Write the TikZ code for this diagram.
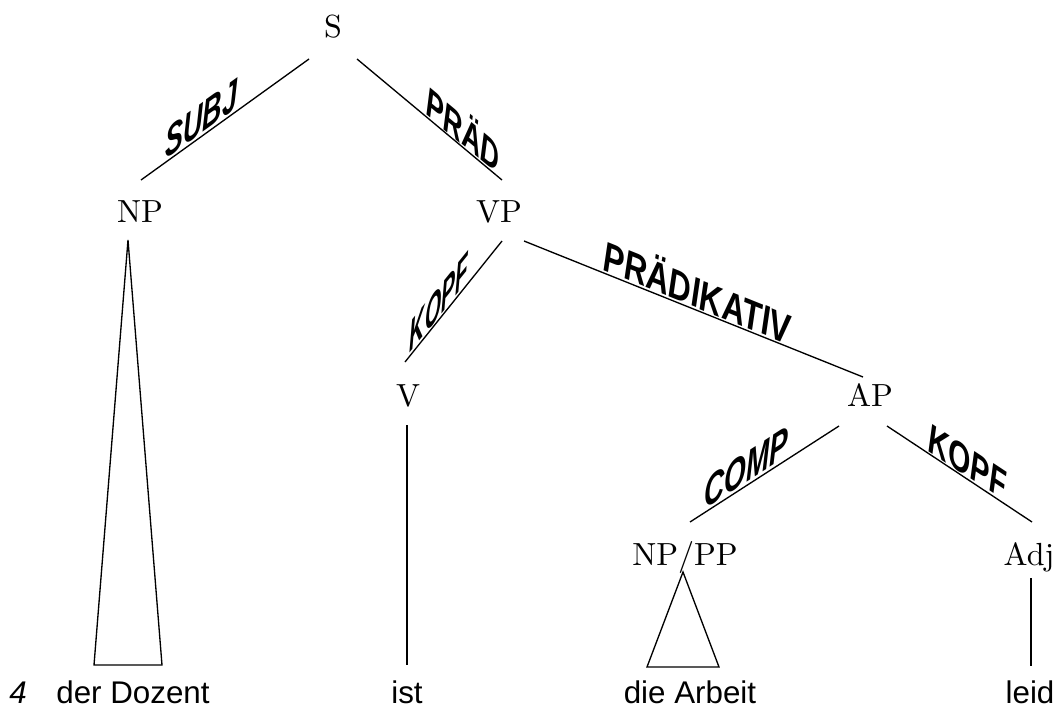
\documentclass[tikz,border=0pt]{standalone}
\usepackage{fontspec}
\newfontfamily\wordfont{Liberation Sans}
\newfontfamily\catfont{lmroman10-regular.otf}
\usetikzlibrary{calc}
\tikzset{every picture/.style={line width=1pt}}
\tikzset{
  cat/.style={anchor=base, inner sep=0pt, font=\catfont\fontsize{24}{28}\selectfont},
  word/.style={anchor=base, inner sep=0pt, font=\wordfont\fontsize{23.5}{28}\selectfont},
  rel/.style 2 args={transform shape, cm={#1,-#2,0,-1.3,(0,0)}, anchor=south, inner sep=0.8pt,
    font=\wordfont\bfseries\itshape\fontsize{25}{30}\selectfont}
}

\begin{document}
\begin{tikzpicture}[x=0.75pt,y=0.75pt,yscale=-1,xscale=1]
  \useasboundingbox (0,0) rectangle (1060,711);

  %Categories
  \node[cat] (S) at (333,37) {S};
  \node[cat] (NP) at (140,222) {NP};
  \node[cat] (VP) at (499,222) {VP};
  \node[cat] (V) at (408,406) {V};
  \node[cat] (AP) at (870,406) {AP};
  \node[cat] (NPPP) at (685,565) {NP/PP};
  \node[cat] (Adj) at (1029,565) {Adj};

  %Words
  \node[word] (num) at (18,703) {\itshape 4};
  \node[word] (dozent) at (133,703) {der Dozent};
  \node[word] (ist) at (407,703) {ist};
  \node[word] (arbeit) at (690,703) {die Arbeit};
  \node[word] (leid) at (1030,703) {leid};

  %Straight Lines with relations
  \draw ($(S.base)+(-24,22)$) -- node[pos=0.64, rel={0.8114}{0.5844}] {SUBJ} ($(NP.base)+(1,-42)$);
  \draw ($(S.base)+(24,22)$) -- node[pos=0.73, rel={0.7678}{-0.6406}] {PRÄD} ($(VP.base)+(3,-42)$);
  \draw ($(VP.base)+(3,19)$) -- node[pos=0.65, rel={0.6255}{0.7803}] {KOPF} ($(V.base)+(-3,-44)$);
  \draw ($(VP.base)+(25,19)$) -- node[pos=0.51, rel={0.9281}{-0.3723}] {PRÄDIKATIV} ($(AP.base)+(-7,-29)$);
  \draw ($(AP.base)+(-31,20)$) -- node[pos=0.62, rel={0.8406}{0.5416}] {COMP} ($(NPPP.base)+(5,-43)$);
  \draw ($(AP.base)+(17,20)$) -- node[pos=0.555, rel={0.8339}{-0.5521}] {KOPF} ($(Adj.base)+(3,-43)$);

  %Straight Lines to words
  \draw ($(V.base)+(-1,19)$) -- ($(ist.base)+(0,-38)$);
  \draw ($(Adj.base)+(2,13)$) -- ($(leid.base)+(1,-37)$);

  %Triangles
  \draw ($(NP.base)+(-12,18)$) -- ($(dozent.base)+(-39,-38)$) -- ($(dozent.base)+(29,-38)$) -- cycle;
  \draw ($(NPPP.base)+(-2,7)$) -- ($(arbeit.base)+(-43,-36)$) -- ($(arbeit.base)+(29,-36)$) -- cycle;
\end{tikzpicture}
\end{document}
